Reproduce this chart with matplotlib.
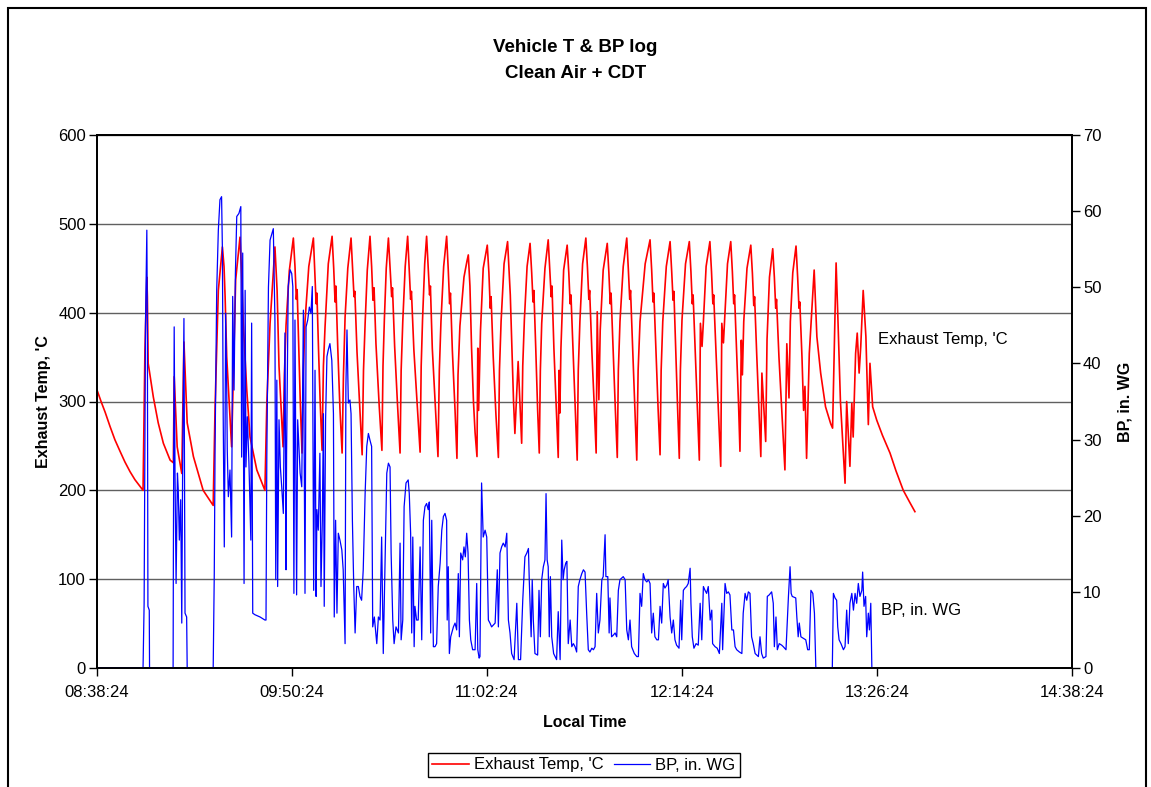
"""
Vehicle exhaust temperature and back pressure log (Clean Air + CDT).
"""

import numpy as np
import pandas as pd
import matplotlib
matplotlib.use("Agg")
import matplotlib.pyplot as plt
import matplotlib.dates as mdates
from matplotlib.patches import Rectangle

plt.rcParams['font.family'] = ['Liberation Sans', 'DejaVu Sans']

START = pd.Timestamp("2000-01-01 08:38:24")
tick_step_min = 72
tick_count = 6

# (minutes after 08:38:24, exhaust temp 'C)
exhaust_temp = [
    (0.0, 313), (1.5, 300), (3.0, 288), (4.8, 272), (6.6, 257), (8.5, 244),
    (10.3, 232), (12.2, 221), (14.0, 212), (15.5, 206), (17.0, 200),
    (17.7, 358), (18.4, 440), (18.6, 418), (18.9, 343), (20.8, 305), (22.6, 276),
    (24.5, 253), (27.0, 234), (28.2, 231), (28.5, 328), (29.6, 249), (31.3, 219),
    (32.1, 367), (32.8, 313), (33.3, 276), (35.6, 238), (39.2, 200), (42.9, 183),
    (43.6, 294), (44.8, 425), (46.3, 474), (46.9, 452), (47.3, 418), (47.9, 350),
    (49.1, 283), (49.7, 249), (51.2, 437), (52.8, 485), (53.4, 444), (54.0, 388),
    (55.3, 313), (56.5, 260), (59.0, 223), (62.0, 200), (62.7, 298), (63.9, 388),
    (65.7, 474), (66.5, 425), (67.2, 340),
    (68.7, 249), (69.2, 330), (69.8, 386), (71.0, 447), (72.5, 484), (73.1, 452), (73.6, 415), (73.9, 426), (74.5, 362), (75.1, 295),
    (75.7, 242), (76.2, 335), (76.8, 390), (78.2, 452), (79.9, 484), (80.4, 446), (80.9, 410), (81.2, 422), (81.8, 358), (82.4, 300),
    (83.1, 245), (83.6, 340), (84.2, 384), (85.4, 455), (86.8, 486), (87.4, 450), (87.9, 412), (88.2, 430), (88.9, 360), (89.7, 292),
    (90.5, 242), (91.0, 330), (91.6, 395), (92.6, 450), (93.8, 484), (94.4, 448), (94.9, 418), (95.2, 424), (96.0, 356), (97.1, 290),
    (97.9, 240), (98.4, 335), (99.0, 388), (99.8, 448), (100.8, 486), (101.4, 452), (101.9, 414), (102.3, 428), (103.0, 365), (104.2, 295),
    (105.2, 245), (105.6, 340), (106.1, 392), (106.8, 450), (107.6, 484), (108.2, 450), (108.8, 418), (109.1, 428), (109.9, 362), (110.9, 300),
    (111.9, 242), (112.3, 335), (112.9, 390), (113.8, 452), (114.7, 486), (115.3, 448), (115.8, 415), (116.1, 424), (117.0, 358), (118.3, 292),
    (119.3, 243), (119.7, 340), (120.2, 392), (121.0, 455), (121.7, 486), (122.3, 450), (122.8, 420), (123.1, 430), (123.8, 360), (125.0, 290),
    (125.9, 238), (126.4, 335), (127.0, 390), (128.0, 452), (129.1, 486), (129.7, 448), (130.2, 410), (130.5, 422), (131.2, 358), (132.2, 290),
    (132.9, 236), (133.3, 330), (134.0, 385), (135.5, 440), (136.6, 458), (137.1, 465), (137.7, 430), (138.3, 360), (139.0, 300), (139.6, 265),
    (140.3, 238), (140.6, 360), (140.9, 290), (141.6, 380), (142.6, 450), (144.1, 476), (144.7, 445), (145.2, 405), (145.5, 418), (146.3, 350), (147.3, 285),
    (148.2, 237), (148.6, 335), (149.2, 390), (150.3, 455), (151.6, 480), (152.2, 445), (152.6, 420), (153.0, 380), (153.8, 300), (154.3, 264), (155.5, 345),
    (156.8, 253), (157.2, 340), (157.8, 392), (158.8, 452), (159.9, 478), (160.5, 445), (161.0, 412), (161.3, 425), (162.0, 360), (162.7, 290),
    (163.3, 242), (163.7, 335), (164.2, 388), (165.4, 450), (166.6, 482), (167.2, 448), (167.7, 418), (168.0, 430), (168.7, 360), (169.6, 290),
    (170.3, 237), (170.6, 335), (170.9, 287), (171.3, 360), (172.3, 448), (173.6, 476), (174.2, 445), (174.7, 410), (175.0, 420), (175.8, 355), (176.6, 290),
    (177.3, 234), (177.7, 335), (178.3, 390), (179.3, 455), (180.5, 484), (181.1, 450), (181.6, 415), (181.9, 425), (182.7, 358), (183.6, 295),
    (184.3, 242), (184.7, 401), (185.3, 302), (185.8, 380), (186.9, 448), (188.4, 478), (189.0, 445), (189.5, 410), (189.8, 422), (190.6, 355), (191.4, 290),
    (192.1, 237), (192.5, 335), (193.1, 390), (194.3, 452), (195.6, 484), (196.2, 448), (196.7, 415), (197.0, 425), (197.8, 358), (198.6, 290),
    (199.3, 234), (199.8, 335), (200.5, 390), (202.4, 455), (204.2, 482), (204.8, 448), (205.3, 412), (205.6, 422), (206.4, 355), (207.2, 290),
    (207.9, 240), (208.3, 335), (208.9, 390), (210.2, 452), (211.6, 480), (212.2, 446), (212.7, 414), (213.0, 424), (213.7, 355), (214.4, 290),
    (215.0, 236), (215.4, 335), (216.0, 392), (217.3, 455), (218.7, 480), (219.3, 446), (219.8, 410), (220.1, 420), (220.9, 355), (221.7, 290),
    (222.4, 234), (222.8, 388), (223.4, 362), (223.9, 390), (224.9, 452), (226.3, 480), (226.9, 446), (227.4, 410), (227.7, 420), (228.6, 352), (229.5, 285),
    (230.3, 227), (230.7, 388), (231.3, 366), (231.8, 395), (232.8, 455), (234.0, 480), (234.6, 446), (235.1, 410), (235.4, 420), (236.2, 355), (236.9, 295),
    (237.4, 244), (237.9, 369), (238.3, 330), (238.8, 390), (240.0, 450), (241.4, 476), (242.0, 444), (242.5, 408), (242.8, 418), (243.6, 352), (244.4, 290),
    (245.1, 238), (245.5, 332), (246.9, 255), (247.4, 370), (248.3, 440), (249.5, 472), (250.1, 440), (250.6, 405), (250.9, 415), (251.8, 350), (253.0, 280),
    (254.0, 223), (254.7, 365), (255.5, 304), (256.0, 390), (256.9, 445), (258.1, 475), (258.7, 440), (259.2, 405), (259.5, 412), (260.3, 350), (260.9, 290), (261.4, 317),
    (262.0, 236), (263.0, 354), (264.8, 448), (265.8, 373), (267.2, 332), (269.0, 294), (270.9, 275),
    (271.6, 270), (272.9, 456), (273.5, 400), (274.5, 300), (276.2, 208), (276.8, 300), (278.0, 227),
    (278.7, 298), (279.2, 260), (280.1, 354), (280.7, 377), (281.4, 332), (282.0, 362), (282.9, 425),
    (283.9, 373), (284.8, 274), (285.4, 343), (286.4, 294), (287.9, 279), (290.0, 262), (292.8, 242),
    (295.0, 222), (297.7, 200), (300.0, 187), (302.0, 176),
]

# (minutes after 08:38:24, back pressure in. WG)
back_pressure = [
    (0.0, 0), (17.0, 0), (17.4, 8.5), (17.9, 45), (18.4, 57.5), (18.6, 45), (18.8, 8.1),
    (19.3, 7.6), (19.4, 0), (28.1, 0), (28.2, 14.6), (28.5, 44.8), (28.8, 25.6), (29.2, 11.1),
    (29.7, 25.6), (30.0, 23.4), (30.4, 16.8), (30.9, 22.1), (31.3, 5.9), (31.6, 25.1),
    (32.1, 45.9), (32.5, 7.2), (33.1, 6.7), (33.3, 0), (42.9, 0), (43.3, 12.4), (43.6, 29.1),
    (44.2, 49.6), (44.8, 57.5), (45.4, 61.5), (46.0, 61.9), (46.3, 55), (46.6, 33), (47.0, 15.9),
    (47.3, 32.1), (47.5, 46.6), (47.9, 36.5), (48.1, 28.6), (48.5, 22.5), (49.1, 26.0),
    (49.7, 17.2), (50.1, 48.8), (50.6, 36.5), (51.1, 51.8), (51.6, 59.3), (52.4, 59.7),
    (53.1, 60.6), (53.4, 27.7), (53.8, 54.5), (54.3, 11.1), (54.7, 49.6), (55.0, 26.4),
    (55.5, 33.0), (56.1, 26.9), (56.8, 16.8), (57.1, 45.3), (57.5, 7.2), (58.3, 7.0),
    (60.2, 6.7), (62.0, 6.3), (62.4, 6.3), (62.7, 27.7), (63.3, 50.0), (63.9, 56.2),
    (65.1, 57.7), (65.7, 45.7), (66.0, 11.6), (66.4, 37.8), (66.7, 10.7), (67.2, 32.6),
    (67.7, 26.4), (68.2, 23.8), (68.8, 20.3), (69.4, 44.0), (69.8, 12.9), (70.0, 28.2),
    (70.6, 50.1), (71.3, 52.3), (71.9, 51.8), (72.3, 50.1), (72.7, 9.8), (73.1, 45.7),
    (73.7, 9.6), (74.1, 32.6), (75.0, 25.6), (75.6, 23.8), (76.2, 47.0), (76.8, 9.8),
    (77.2, 44.8), (77.8, 45.7), (78.4, 47.4), (79.0, 46.6), (79.5, 50.1), (80.0, 10.2),
    (80.5, 39.1), (80.9, 9.4), (81.2, 20.8), (81.7, 18.1), (82.3, 28.2), (82.7, 10.7),
    (83.2, 19.4), (83.6, 33.4), (83.9, 8.1), (84.4, 32.6), (84.9, 40.9), (85.4, 41.8),
    (86.0, 42.6), (86.7, 40.4), (87.3, 33.4), (87.6, 6.7), (88.1, 19.4), (88.6, 7.2),
    (89.1, 17.7), (89.7, 16.8), (90.4, 15.5), (90.9, 12.9), (91.6, 3.2), (91.9, 36.9),
    (92.3, 44.4), (92.8, 34.8), (93.4, 35.2), (93.8, 33.4), (94.3, 19.4), (94.8, 10.7),
    (95.3, 4.6), (95.9, 10.7), (96.5, 10.7), (97.1, 9.4), (97.7, 8.9), (98.3, 12.9),
    (99.0, 22.9), (99.6, 29.1), (100.2, 30.8), (100.8, 29.9), (101.4, 29.1), (101.8, 5.4),
    (102.4, 6.7), (103.3, 3.2), (103.9, 6.7), (104.5, 6.3), (105.1, 17.2), (105.7, 1.9),
    (107.0, 25.6), (107.6, 26.9), (108.2, 26.4), (108.6, 15.1), (109.2, 6.3), (109.7, 3.2),
    (110.4, 5.4), (111.3, 4.6), (111.9, 16.4), (112.3, 3.7), (112.9, 6.3), (113.4, 21.2),
    (114.1, 24.3), (114.9, 24.7), (115.3, 22.9), (115.8, 17.7), (116.2, 4.6), (116.6, 17.2),
    (117.1, 2.8), (117.4, 8.1), (118.0, 6.3), (118.6, 6.3), (119.3, 15.9), (119.9, 3.7),
    (120.5, 19.4), (121.1, 21.2), (121.7, 21.6), (122.3, 20.8), (122.7, 21.8), (123.2, 4.6),
    (123.6, 19.4), (124.2, 2.8), (124.8, 2.8), (125.4, 3.2), (126.0, 10.7), (126.7, 13.8),
    (127.3, 18.1), (127.9, 19.9), (128.5, 20.3), (129.1, 19.4), (129.3, 6.3), (129.7, 13.3),
    (130.1, 1.9), (130.6, 4.1), (131.6, 5.4), (132.2, 5.9), (132.8, 5.0), (133.4, 12.4),
    (133.8, 4.1), (134.3, 15.1), (135.0, 14.2), (135.5, 15.9), (136.0, 14.6), (136.5, 17.7),
    (137.0, 15.1), (137.5, 6.3), (138.0, 3.7), (138.7, 2.4), (139.6, 2.4), (140.2, 11.1),
    (140.6, 2.4), (141.1, 1.3), (141.4, 1.5), (142.0, 24.3), (142.6, 17.2), (143.3, 18.1),
    (143.9, 17.2), (144.5, 6.3), (145.1, 5.9), (145.7, 5.4), (147.0, 5.9), (147.8, 12.9),
    (148.2, 5.4), (148.8, 15.1), (149.4, 15.9), (150.0, 16.4), (150.7, 15.9), (151.3, 17.7),
    (151.9, 6.3), (152.5, 4.6), (153.1, 1.9), (154.0, 1.1), (155.0, 8.5), (155.6, 1.1),
    (156.4, 1.1), (157.2, 8.9), (158.0, 14.6), (158.7, 15.1), (159.3, 15.7), (159.6, 11.6),
    (160.3, 4.1), (160.7, 11.6), (161.1, 6.3), (161.7, 1.9), (162.7, 1.7), (163.2, 10.2),
    (163.7, 4.1), (164.2, 11.6), (164.8, 13.3), (165.4, 14.2), (165.8, 22.9), (166.2, 14.2),
    (166.6, 13.3), (167.0, 4.1), (167.4, 12.0), (167.9, 4.1), (168.6, 1.9), (169.7, 1.1),
    (170.3, 7.4), (171.0, 1.1), (171.6, 16.8), (172.1, 11.6), (172.5, 12.9), (173.1, 13.8),
    (173.5, 14.0), (174.0, 3.2), (174.7, 6.3), (175.3, 2.8), (175.9, 3.2), (176.5, 2.8),
    (177.1, 2.1), (177.7, 10.7), (178.3, 11.6), (179.0, 12.4), (179.6, 12.9), (180.2, 12.6),
    (180.8, 7.2), (181.4, 2.4), (182.0, 2.1), (182.7, 2.6), (183.3, 2.4), (183.9, 2.8),
    (184.5, 9.8), (185.1, 4.6), (185.7, 6.3), (186.4, 11.6), (186.9, 12.0), (187.6, 17.5),
    (187.9, 12.0), (188.6, 12.0), (189.1, 4.6), (189.4, 9.2), (190.0, 4.1), (190.6, 4.3),
    (191.3, 4.6), (191.9, 4.1), (192.5, 10.2), (193.1, 11.6), (193.7, 11.8), (194.3, 12.0),
    (195.0, 11.6), (195.6, 5.0), (196.2, 3.7), (196.8, 6.3), (197.4, 2.8), (198.4, 1.9),
    (199.3, 1.5), (199.9, 1.5), (200.5, 9.8), (201.1, 8.1), (201.7, 12.4), (202.3, 11.6),
    (203.0, 11.3), (203.6, 11.6), (204.2, 11.1), (204.8, 4.6), (205.4, 7.2), (206.0, 4.1),
    (206.7, 3.7), (207.3, 3.7), (207.9, 8.1), (208.5, 5.9), (209.1, 11.1), (209.7, 10.5),
    (210.4, 10.9), (210.9, 11.6), (211.6, 6.7), (212.2, 4.6), (212.8, 6.3), (213.4, 3.7),
    (214.0, 3.0), (214.9, 2.6), (215.5, 8.9), (215.9, 3.7), (216.5, 10.2), (217.1, 10.5),
    (217.7, 10.7), (218.3, 11.1), (219.0, 13.1), (219.3, 8.5), (219.8, 4.1), (220.4, 2.6),
    (221.2, 3.2), (222.0, 3.0), (222.7, 8.5), (223.3, 3.7), (223.9, 10.7), (224.5, 10.2),
    (225.1, 9.8), (225.7, 10.7), (226.4, 6.3), (227.0, 7.6), (227.3, 3.2), (228.2, 2.8),
    (229.0, 2.6), (229.8, 1.9), (230.7, 8.5), (231.0, 2.4), (231.9, 11.1), (232.5, 9.8),
    (233.1, 10.0), (233.7, 9.6), (234.4, 5.0), (235.0, 5.0), (235.6, 2.8), (236.2, 2.4),
    (237.2, 2.1), (238.1, 1.9), (238.6, 7.2), (239.3, 9.8), (239.9, 8.9), (240.5, 10.0),
    (241.1, 9.8), (241.7, 4.1), (242.3, 3.2), (243.0, 1.9), (243.6, 1.7), (244.2, 1.5),
    (244.8, 4.1), (245.4, 1.9), (246.0, 1.3), (247.0, 1.5), (247.5, 9.4), (248.2, 9.6),
    (249.1, 10.0), (249.7, 8.5), (250.1, 2.8), (250.7, 6.7), (251.2, 2.4), (251.9, 3.2),
    (252.8, 3.0), (253.4, 2.8), (254.4, 2.4), (255.3, 9.4), (255.9, 13.3), (256.3, 9.8),
    (256.7, 9.4), (258.0, 9.2), (258.4, 6.7), (258.9, 4.1), (259.3, 5.9), (259.9, 4.1),
    (260.8, 3.9), (261.7, 3.7), (262.4, 2.4), (263.0, 2.4), (263.6, 10.2), (264.3, 9.8),
    (264.9, 7.2), (265.4, 0.2), (265.5, 0), (271.5, 0), (271.9, 9.8), (272.5, 9.2),
    (273.1, 8.9), (273.5, 5.4), (274.0, 3.7), (274.7, 3.2), (275.6, 2.4), (276.2, 2.8),
    (276.8, 7.6), (277.4, 3.2), (278.0, 8.5), (278.7, 9.8), (279.3, 7.6), (279.9, 9.8),
    (280.5, 8.5), (281.1, 11.1), (281.7, 9.4), (282.4, 10.2), (282.7, 12.6), (283.2, 8.1),
    (283.8, 9.4), (284.2, 4.1), (284.8, 7.2), (285.2, 5.0), (285.7, 8.5), (286.1, 0),
]

temp_label = "Exhaust Temp, 'C"
bp_label = "BP, in. WG"


def to_time(minutes):
    return (START + pd.to_timedelta(np.asarray(minutes), unit="min")).to_numpy()


def main() -> None:
    t_temp, v_temp = np.array(exhaust_temp).T
    t_bp, v_bp = np.array(back_pressure).T

    fig = plt.figure(figsize=(11.51, 7.87), dpi=100)
    ax = fig.add_axes([97 / 1151, 1 - 668 / 787, 975 / 1151, 533 / 787])
    ax2 = ax.twinx()

    ax.yaxis.grid(True, color='#606060', linewidth=1.0)
    ax.set_axisbelow(True)

    l1, = ax.plot(to_time(t_temp), v_temp, color='#FF0000', linewidth=1.2,
                  label=temp_label)
    l2, = ax2.plot(to_time(t_bp), v_bp, color='#0000FF', linewidth=0.9,
                   label=bp_label)

    ax.set_ylim(0, 600)
    ax2.set_ylim(0, 70)
    ax.set_yticks(range(0, 601, 100))
    ax2.set_yticks(range(0, 71, 10))

    ticks = to_time([k * tick_step_min for k in range(tick_count)])
    ax.set_xticks(ticks)
    ax.set_xlim(ticks[0], ticks[-1])
    ax.xaxis.set_major_formatter(mdates.DateFormatter('%H:%M:%S'))

    for a in (ax, ax2):
        a.tick_params(direction='out', length=6, width=1, labelsize=12,
                      colors='black', pad=2)
        for s in a.spines.values():
            s.set_linewidth(1.3)
            s.set_color('black')
    ax.tick_params(axis='x', pad=6)

    ax.set_xlabel("Local Time", fontsize=11.5, fontweight='bold', labelpad=11)
    ax.set_ylabel(temp_label, fontsize=11.5, fontweight='bold', labelpad=5)
    ax2.set_ylabel(bp_label, fontsize=11.5, fontweight='bold', labelpad=11)

    ax.text(to_time([288.5])[0], 370, temp_label, fontsize=12, va='center')
    ax.text(to_time([289.5])[0], 65, bp_label, fontsize=12, va='center')

    fig.text(0.5, 1 - 47 / 787, "Vehicle T & BP log", ha='center',
             va='center', fontsize=13.5, fontweight='bold')
    fig.text(0.5, 1 - 73 / 787, "Clean Air + CDT", ha='center',
             va='center', fontsize=13.5, fontweight='bold')

    leg = fig.legend(handles=[l1, l2], loc='center', ncol=2,
                     bbox_to_anchor=(584 / 1151, 1 - 765 / 787),
                     fontsize=12, frameon=True, fancybox=False,
                     edgecolor='black', framealpha=1, handlelength=2.2,
                     handletextpad=0.3, columnspacing=0.6, borderpad=0.25,
                     borderaxespad=0)
    leg.get_frame().set_linewidth(1.0)

    fig.add_artist(Rectangle((8 / 1151, -0.05), 1138 / 1151, 1.05 - 8 / 787,
                             transform=fig.transFigure, fill=False,
                             edgecolor='black', linewidth=1.5))

    fig.savefig('out.png', dpi=100)


if __name__ == '__main__':
    main()
